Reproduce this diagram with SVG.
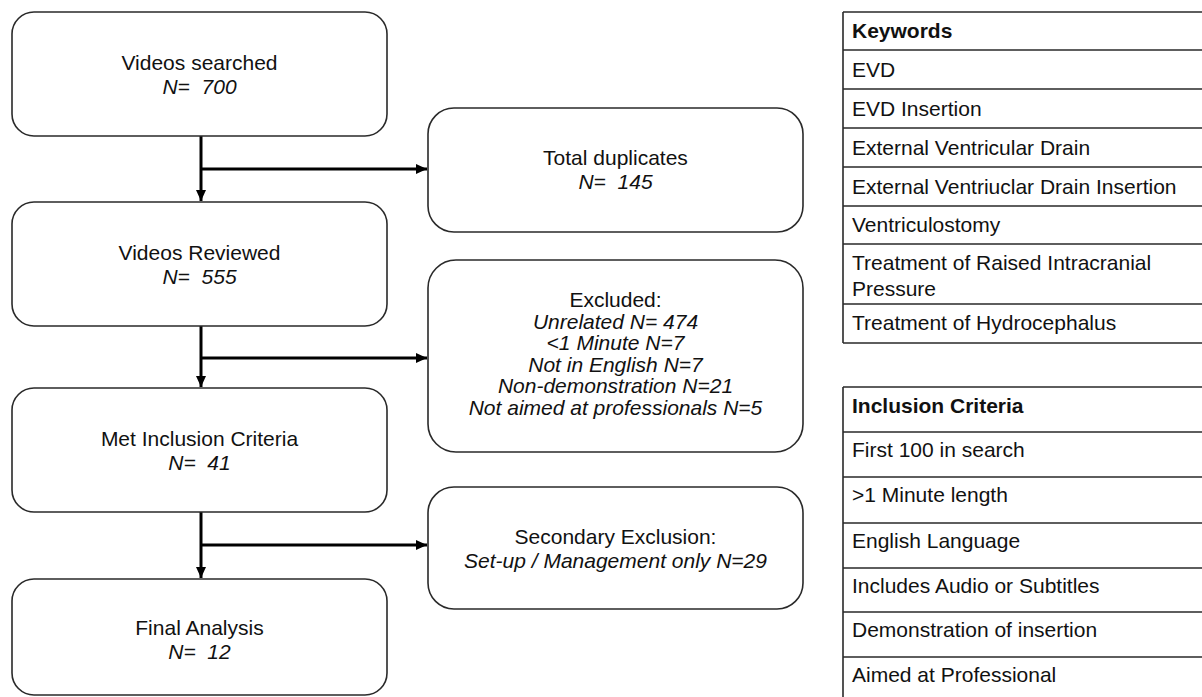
<svg xmlns="http://www.w3.org/2000/svg" width="1202" height="697" viewBox="0 0 1202 697">
<defs>
<style>
.box{fill:#fff;stroke:#2a2a2a;stroke-width:1.6}
.t{font-family:"Liberation Sans",Arial,sans-serif;font-size:21px;fill:#111;text-anchor:middle}
.i{font-style:italic}
.tt{font-family:"Liberation Sans",Arial,sans-serif;font-size:21px;fill:#111}
.b{font-weight:bold}
.ln{stroke:#2a2a2a;stroke-width:1.6;fill:none}
.c{stroke:#000;stroke-width:3;fill:none}
</style>
<marker id="ah" markerUnits="userSpaceOnUse" markerWidth="12" markerHeight="12" viewBox="0 0 12 12" refX="11" refY="6" orient="auto">
<path d="M0,1 L11,6 L0,11 Z" fill="#000"/>
</marker>
</defs>
<rect width="1202" height="697" fill="#fff"/>

<g id="connectors">
<path class="c" d="M201,136 V201" marker-end="url(#ah)"/>
<path class="c" d="M201,169 H427" marker-end="url(#ah)"/>
<path class="c" d="M201,326 V387" marker-end="url(#ah)"/>
<path class="c" d="M201,358 H427" marker-end="url(#ah)"/>
<path class="c" d="M201,512 V578" marker-end="url(#ah)"/>
<path class="c" d="M201,545 H427" marker-end="url(#ah)"/>
</g>

<g id="videos-searched">
<rect class="box" x="12" y="12" width="375" height="124" rx="22"/>
<text class="t" x="199.5" y="70">Videos searched</text>
<text class="t i" x="199.5" y="94" xml:space="preserve">N=  700</text>
</g>
<g id="videos-reviewed">
<rect class="box" x="12" y="202" width="375" height="124" rx="22"/>
<text class="t" x="199.5" y="260">Videos Reviewed</text>
<text class="t i" x="199.5" y="284" xml:space="preserve">N=  555</text>
</g>
<g id="met-inclusion">
<rect class="box" x="12" y="388" width="375" height="124" rx="22"/>
<text class="t" x="199.5" y="446">Met Inclusion Criteria</text>
<text class="t i" x="199.5" y="470" xml:space="preserve">N=  41</text>
</g>
<g id="final-analysis">
<rect class="box" x="12" y="579" width="375" height="116" rx="22"/>
<text class="t" x="199.5" y="635">Final Analysis</text>
<text class="t i" x="199.5" y="659" xml:space="preserve">N=  12</text>
</g>

<g id="total-duplicates">
<rect class="box" x="428" y="108" width="375" height="124" rx="26"/>
<text class="t" x="615.5" y="165">Total duplicates</text>
<text class="t i" x="615.5" y="189" xml:space="preserve">N=  145</text>
</g>
<g id="excluded">
<rect class="box" x="428" y="260" width="375" height="192" rx="28"/>
<text class="t" x="615.5" y="307">Excluded:</text>
<text class="t i" x="615.5" y="328.5">Unrelated N= 474</text>
<text class="t i" x="615.5" y="350">&lt;1 Minute N=7</text>
<text class="t i" x="615.5" y="371.5">Not in English N=7</text>
<text class="t i" x="615.5" y="393">Non-demonstration N=21</text>
<text class="t i" x="615.5" y="414.5">Not aimed at professionals N=5</text>
</g>
<g id="secondary-exclusion">
<rect class="box" x="428" y="487" width="375" height="122" rx="26"/>
<text class="t" x="615.5" y="544">Secondary Exclusion:</text>
<text class="t i" x="615.5" y="568">Set-up / Management only N=29</text>
</g>

<g id="keywords-table">
<path class="ln" d="M843,12 H1204 M843,50 H1204 M843,89 H1204 M843,128 H1204 M843,167 H1204 M843,206 H1204 M843,244 H1204 M843,304 H1204 M843,343 H1204 M843,12 V343"/>
<text class="tt b" x="852" y="38">Keywords</text>
<text class="tt" x="852" y="77">EVD</text>
<text class="tt" x="852" y="116">EVD Insertion</text>
<text class="tt" x="852" y="155">External Ventricular Drain</text>
<text class="tt" x="852" y="194">External Ventriuclar Drain Insertion</text>
<text class="tt" x="852" y="232">Ventriculostomy</text>
<text class="tt" x="852" y="270">Treatment of Raised Intracranial</text>
<text class="tt" x="852" y="296">Pressure</text>
<text class="tt" x="852" y="330">Treatment of Hydrocephalus</text>
</g>

<g id="inclusion-table">
<path class="ln" d="M843,387 H1204 M843,432 H1204 M843,477 H1204 M843,523 H1204 M843,568 H1204 M843,612 H1204 M843,657 H1204 M843,387 V699"/>
<text class="tt b" x="852" y="413">Inclusion Criteria</text>
<text class="tt" x="852" y="457">First 100 in search</text>
<text class="tt" x="852" y="502">&gt;1 Minute length</text>
<text class="tt" x="852" y="548">English Language</text>
<text class="tt" x="852" y="593">Includes Audio or Subtitles</text>
<text class="tt" x="852" y="637">Demonstration of insertion</text>
<text class="tt" x="852" y="682">Aimed at Professional</text>
</g>
</svg>
